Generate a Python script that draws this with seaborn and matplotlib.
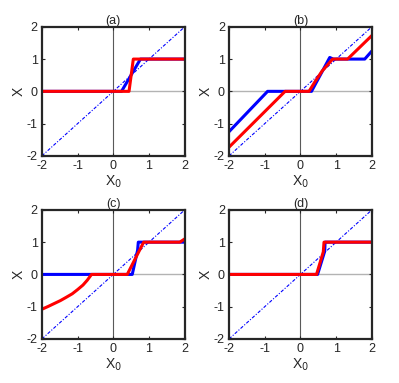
import matplotlib
matplotlib.use("Agg")
import matplotlib.pyplot as plt
import seaborn as sns

# panel data: x0 values and x values for the two curves
a_blue_x = [-2, 0.23, 0.76, 2]
a_blue_y = [0, 0, 1, 1]
a_red_x = [-2, 0.44, 0.56, 2]
a_red_y = [0, 0, 1, 1]

b_blue_x = [-2, -0.92, 0.31, 0.82, 0.92, 1.8, 2]
b_blue_y = [-1.25, 0, 0, 1.05, 1, 1, 1.25]
b_red_x = [-2, -0.43, 0.24, 0.42, 0.6, 0.9, 1.32, 2]
b_red_y = [-1.73, 0, 0, 0.32, 0.62, 1, 1, 1.73]

c_blue_x = [-2, 0.53, 0.68, 0.7, 2]
c_blue_y = [0, 0, 0.75, 1, 1]
c_red_x = [-2, -1.82, -1.65, -1.48, -1.32, -1.15, -1.0, -0.85, -0.73,
           -0.61, 0.39, 0.85, 1.86, 2]
c_red_y = [-1.08, -0.99, -0.9, -0.81, -0.71, -0.6, -0.47, -0.33, -0.18,
           0, 0, 1, 1, 1.1]

d_blue_x = [-2, 0.48, 0.68, 0.69, 2]
d_blue_y = [0, 0, 0.72, 1, 1]
d_red_x = [-2, 0.45, 0.64, 0.66, 2]
d_red_y = [0, 0, 0.7, 1, 1]

diag = [-2, 2]
ticks = [-2, -1, 0, 1, 2]

panels = [
    ("(a)", a_blue_x, a_blue_y, a_red_x, a_red_y),
    ("(b)", b_blue_x, b_blue_y, b_red_x, b_red_y),
    ("(c)", c_blue_x, c_blue_y, c_red_x, c_red_y),
    ("(d)", d_blue_x, d_blue_y, d_red_x, d_red_y),
]

sns.set_style("white")
plt.rcParams["font.family"] = ["Liberation Sans", "DejaVu Sans"]
plt.rcParams["axes.unicode_minus"] = False

fig = plt.figure(figsize=(3.99, 3.83), dpi=100)
lefts = [0.105, 0.574]
bottoms = [0.593, 0.115]
w, h = 0.358, 0.337

for i, (title, bx, by, rx, ry) in enumerate(panels):
    ax = fig.add_axes([lefts[i % 2], bottoms[i // 2], w, h])
    ax.axhline(0, color="0.7", lw=1.0, zorder=0)
    ax.axvline(0, color="0.35", lw=0.8, zorder=0)
    sns.lineplot(x=diag, y=diag, ax=ax, color="blue", lw=0.8,
                 dashes=False).lines[-1].set_dashes([3, 1.5, 1, 1.5])
    sns.lineplot(x=bx, y=by, ax=ax, color="blue", lw=2.2, sort=False)
    sns.lineplot(x=rx, y=ry, ax=ax, color="red", lw=2.2, sort=False)
    ax.set_xlim(-2, 2)
    ax.set_ylim(-2, 2)
    ax.set_xticks(ticks)
    ax.set_yticks(ticks)
    ax.tick_params(direction="in", length=2.5, width=0.8, labelsize=9,
                   top=True, right=True, bottom=True, left=True, pad=3,
                   colors="0.15")
    for s in ax.spines.values():
        s.set_linewidth(1.6)
        s.set_color("0.15")
    ax.set_title(title, fontsize=9, pad=2)
    ax.set_xlabel("X$_0$", fontsize=10, labelpad=1)
    ax.set_ylabel("X", fontsize=10, labelpad=1)

fig.savefig("out.png", dpi=100)
